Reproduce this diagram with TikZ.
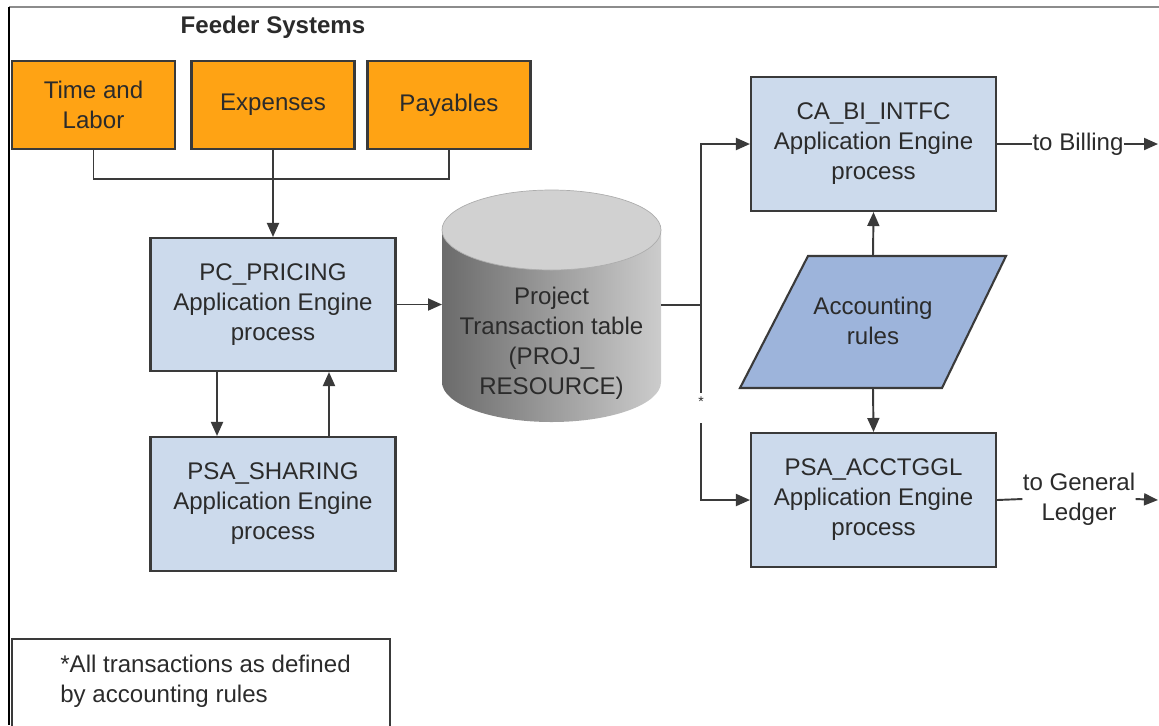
\documentclass[tikz,border=0pt]{standalone}
\usepackage{fontspec}
\setmainfont{Liberation Sans}
\usepackage{xcolor}
\usepackage{tikz}
\usetikzlibrary{arrows.meta}

\definecolor{feedorange}{HTML}{FFA314}
\definecolor{procblue}{HTML}{CCDAEC}
\definecolor{rulesblue}{HTML}{9DB4DB}
\definecolor{linegray}{HTML}{3A3A3A}
\definecolor{txtgray}{HTML}{2B2B2B}

\tikzset{
	feeder/.style={draw=linegray, line width=1.2pt, fill=feedorange, minimum width=3.26cm, minimum height=1.76cm, align=center, inner sep=0pt},
	proc/.style={draw=linegray, line width=1.2pt, fill=procblue, minimum width=4.9cm, minimum height=2.68cm, align=center, inner sep=0pt},
	lbl/.style={align=center, inner sep=0pt},
	conn/.style={draw=linegray, line width=1.1pt},
}

\begin{document}
\begin{tikzpicture}[x=0.02cm, y=0.02cm, font=\fontsize{13.7}{17.1}\selectfont, text=txtgray,
	>={Triangle[length=0.28cm,width=0.24cm]}]
		\useasboundingbox (0,0) rectangle (1159,-725);
		\draw[black!45, line width=0.8pt] (9,-7) -- (1159,-7);
		\draw[black, line width=0.8pt] (9,-7) -- (9,-725);

		\node[lbl, font=\fontsize{13.7}{17.1}\selectfont\bfseries] (feed) at (273,-27) {Feeder Systems};
		\node[feeder] (tl) at (93.5,-105) {Time and\\Labor};
		\node[feeder] (exp) at (273,-105) {Expenses};
		\node[feeder] (pay) at (449,-105) {Payables};

		\node[proc, minimum height=2.66cm] (pc) at (273,-304.5) {PC\_PRICING\\Application Engine\\process};
		\node[proc] (sh) at (273,-504) {PSA\_SHARING\\Application Engine\\process};

		\shade[left color=black!58, right color=black!20] (442,-230) -- (442,-382)
			arc[start angle=180, end angle=360, x radius=109.5, y radius=40] -- (661,-230) -- cycle;
		\filldraw[fill=black!18, draw=black!32, line width=0.4pt] (551.5,-230) ellipse[x radius=109.5, y radius=40];
		\node[lbl] (tbl) at (551.5,-343.5) {Project\\Transaction table\\(PROJ\_\\RESOURCE)};
		\coordinate (tblin) at (442,-304.5);
		\coordinate (tblout) at (661,-305);

		\node[proc] (ca) at (873.5,-144) {CA\_BI\_INTFC\\Application Engine\\process};
		\node[proc] (ac) at (873.5,-500) {PSA\_ACCTGGL\\Application Engine\\process};

		\filldraw[fill=rulesblue, draw=linegray, line width=1.2pt] (808,-256) -- (1006,-256) -- (942,-388) -- (740,-388) -- cycle;
		\node[lbl] (rul) at (873,-321) {Accounting\\rules};
		\coordinate (rultop) at (873,-256);
		\coordinate (rulbot) at (873,-388);

		\coordinate (jn) at (701,-305);
		\coordinate (gapa) at (701,-393);
		\coordinate (gapb) at (701,-423);
		\node[lbl, font=\fontsize{8}{9}\selectfont] (star) at (701,-402) {*};

		\node[lbl] (bil) at (1078,-144) {to Billing};
		\coordinate (bilend) at (1158,-144);
		\node[lbl] (gl) at (1079,-499) {to General\\Ledger};
		\coordinate (glend) at (1158,-500);

		\draw[conn] (tl.south) -- ++(0,-29) -| (pay.south);
		\draw[conn, ->] (exp) -- (pc);
		\draw[conn, ->] ([xshift=-1.12cm]pc.south) -- ([xshift=-1.12cm]sh.north);
		\draw[conn, ->] ([xshift=1.12cm]sh.north) -- ([xshift=1.12cm]pc.south);
		\draw[conn, ->] (pc.east) -- (tblin);
		\draw[conn] (tblout) -- (jn);
		\draw[conn, ->] (jn) |- (ca.west);
		\draw[conn] (jn) -- (gapa);
		\draw[conn, ->] (gapb) |- (ac.west);
		\draw[conn, ->] (rultop) -- (ca.south);
		\draw[conn, ->] (rulbot) -- (ac.north);
		\draw[conn] (ca.east) -- (bil.west);
		\draw[conn, ->] (bil.east) -- (bilend);
		\draw[conn] (ac.east) -- (gl.west);
		\draw[conn, ->] (gl.east) -- (glend);

		\draw[linegray, line width=1.2pt] (12,-735) |- (390,-639) -- (390,-735);
		\node[anchor=west, align=left, inner sep=0pt] (note) at (60,-681) {*All transactions as defined\\by accounting rules};
\end{tikzpicture}
\end{document}
